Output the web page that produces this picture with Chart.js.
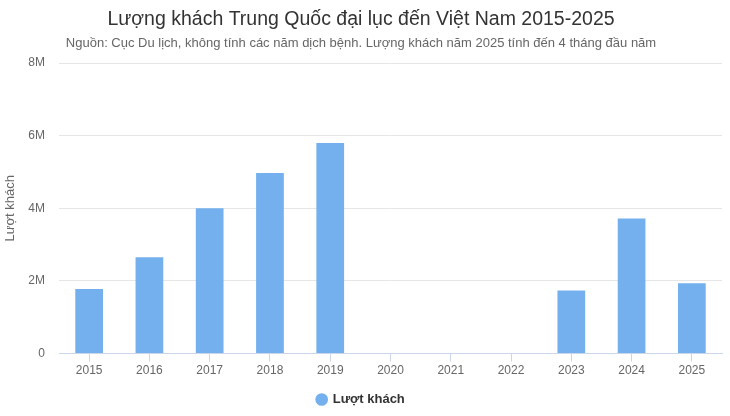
<!DOCTYPE html>
<html>
<head>
<meta charset="utf-8">
<script src="https://cdn.jsdelivr.net/npm/chart.js@4/dist/chart.umd.min.js"></script>
<style>
  html, body { margin: 0; padding: 0; background: #fff; }
  #wrap { width: 730px; height: 416px; }
</style>
</head>
<body>
<div id="wrap"><canvas id="visitorChart"></canvas></div>
<script>
// Data
const years = ['2015', '2016', '2017', '2018', '2019', '2020', '2021', '2022', '2023', '2024', '2025'];
const visitors = [1780000, 2650000, 4000000, 4970000, 5800000, null, null, null, 1740000, 3720000, 1940000];
const yTicks = [0, 2000000, 4000000, 6000000, 8000000];

const barColor = '#74b0ee';
const fontFamily = '"Liberation Sans", Arial, sans-serif';

function formatTick(value) {
    if (value === 0) return '0';
    return (value / 1000000) + 'M';
}

function renderVisitorChart() {
    const ctx = document.getElementById('visitorChart');
    if (!ctx) return;

    new Chart(ctx.getContext('2d'), {
        type: 'bar',
        data: {
            labels: years,
            datasets: [{
                label: 'Lượt khách',
                data: visitors,
                backgroundColor: barColor,
                borderWidth: 0,
                barPercentage: 0.46,
                categoryPercentage: 1.0
            }]
        },
        options: {
            responsive: true,
            maintainAspectRatio: false,
            animation: false,
            devicePixelRatio: 1,
            layout: { padding: { left: 0, right: 8, top: 4, bottom: 0 } },
            scales: {
                x: {
                    grid: {
                        offset: false,
                        drawOnChartArea: false,
                        drawTicks: true,
                        tickLength: 8,
                        color: '#ccd6eb'
                    },
                    border: { display: true, color: '#ccd6eb' },
                    ticks: {
                        color: '#666666',
                        font: { family: fontFamily, size: 12 },
                        padding: 2,
                        maxRotation: 0,
                        autoSkip: false
                    }
                },
                y: {
                    min: 0,
                    max: 8000000,
                    afterBuildTicks: function(axis) {
                        axis.ticks = yTicks.map(v => ({ value: v }));
                    },
                    afterFit: function(axis) {
                        axis.width = 59;
                    },
                    grid: { color: '#e6e6e6', drawTicks: false },
                    border: { display: false },
                    ticks: {
                        color: '#666666',
                        font: { family: fontFamily, size: 12 },
                        padding: 14,
                        callback: formatTick
                    },
                    title: {
                        display: true,
                        text: 'Lượt khách',
                        color: '#666666',
                        font: { family: fontFamily, size: 13 },
                        padding: { top: 3, bottom: 0 }
                    }
                }
            },
            plugins: {
                title: {
                    display: true,
                    text: 'Lượng khách Trung Quốc đại lục đến Việt Nam 2015-2025',
                    color: '#333333',
                    font: { family: fontFamily, size: 19.5, weight: 'normal' },
                    padding: { top: 4, bottom: 4 }
                },
                subtitle: {
                    display: true,
                    text: 'Nguồn: Cục Du lịch, không tính các năm dịch bệnh. Lượng khách năm 2025 tính đến 4 tháng đầu năm',
                    color: '#666666',
                    font: { family: fontFamily, size: 13 },
                    padding: { top: 0, bottom: 12 }
                },
                legend: {
                    position: 'bottom',
                    labels: {
                        usePointStyle: true,
                        pointStyle: 'circle',
                        boxWidth: 9,
                        boxHeight: 9,
                        color: '#333333',
                        font: { family: fontFamily, size: 13, weight: 'bold' },
                        padding: 13
                    }
                },
                tooltip: { enabled: false }
            }
        }
    });
}

document.addEventListener('DOMContentLoaded', function() {
    renderVisitorChart();
});
</script>
</body>
</html>
